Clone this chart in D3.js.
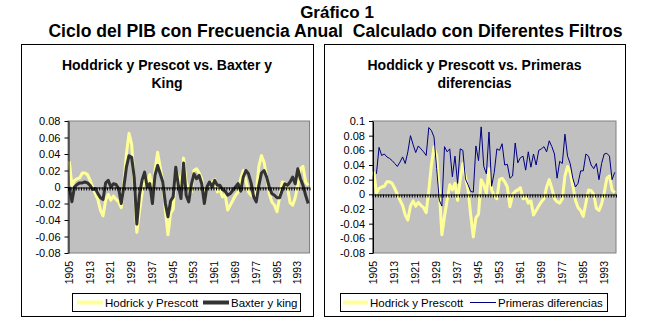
<!DOCTYPE html>
<html>
<head>
<meta charset="utf-8">
<script src="https://cdn.jsdelivr.net/npm/d3@7"></script>
<style>
  html, body { margin: 0; padding: 0; background: #ffffff; }
  svg { display: block; }
  text { font-family: "Liberation Sans", Arial, Helvetica, sans-serif; fill: #000; }
</style>
</head>
<body>
<svg id="chart" width="665" height="329"></svg>
<script>
// Years on the category axis (one point per year)
const years = [
  1905,1906,1907,1908,1909,1910,1911,1912,1913,1914,1915,1916,1917,1918,1919,1920,
  1921,1922,1923,1924,1925,1926,1927,1928,1929,1930,1931,1932,1933,1934,1935,1936,
  1937,1938,1939,1940,1941,1942,1943,1944,1945,1946,1947,1948,1949,1950,1951,1952,
  1953,1954,1955,1956,1957,1958,1959,1960,1961,1962,1963,1964,1965,1966,1967,1968,
  1969,1970,1971,1972,1973,1974,1975,1976,1977,1978,1979,1980,1981,1982,1983,1984,
  1985,1986,1987,1988,1989,1990,1991,1992,1993,1994,1995,1996,1997
];

// Year labels shown under each plot
const yearLabels = [1905,1913,1921,1929,1937,1945,1953,1961,1969,1977,1985,1993];

// Hodrick-Prescott cycle
const hodrickPrescott = [
   0.031, 0.002, 0.008, 0.010, 0.011, 0.017, 0.017, 0.015, 0.008, 0.000,
  -0.008,-0.015,-0.028,-0.035,-0.016,-0.009,-0.016,-0.011,-0.015,-0.018,
  -0.025, 0.005, 0.040, 0.065, 0.052, 0.005,-0.055,-0.030,-0.008, 0.013,
   0.006, 0.015,-0.008, 0.020, 0.042, 0.024, 0.006,-0.028,-0.058,-0.032,
  -0.027, 0.020, 0.013, 0.001, 0.035, 0.006,-0.002,-0.006, 0.020, 0.022,
   0.017, 0.010,-0.017, 0.000, 0.004, 0.006, 0.009,-0.006,-0.003,-0.012,
  -0.009,-0.028,-0.022,-0.016,-0.010,-0.006, 0.010, 0.020, 0.008,-0.006,
  -0.010,-0.012,-0.006, 0.025, 0.038, 0.030, 0.012,-0.008,-0.018,-0.022,
  -0.030,-0.012, 0.006, 0.005, 0.000,-0.019,-0.022,-0.013, 0.002, 0.022,
   0.025, 0.006, 0.002
];

// Baxter-King cycle
const baxterKing = [
   0.000,-0.018, 0.000, 0.003, 0.005, 0.005, 0.006, 0.005, 0.002,-0.003,
  -0.002,-0.008,-0.013,-0.015, 0.005, 0.008, 0.000, 0.004, 0.003,-0.002,
  -0.020, 0.000, 0.024, 0.038, 0.036, 0.012,-0.045,-0.010, 0.008, 0.018,
   0.000, 0.004,-0.020, 0.014, 0.026, 0.016, 0.006,-0.020,-0.036,-0.017,
  -0.012, 0.024, 0.002,-0.014, 0.029,-0.010,-0.018, 0.003, 0.016, 0.010,
   0.014, 0.004,-0.020, 0.000, 0.006, 0.000, 0.008, 0.002, 0.002,-0.003,
  -0.005,-0.010,-0.008,-0.004, 0.000, 0.004,-0.005, 0.012, 0.020, 0.016,
   0.005,-0.012,-0.018, 0.002, 0.017, 0.020, 0.012, 0.000,-0.008,-0.010,
  -0.013,-0.013,-0.004, 0.004, 0.002, 0.006, 0.012, 0.004, 0.022, 0.010,
   0.002,-0.010,-0.020
];

// First differences (no value for the first year)
const primerasDiferencias = [
    null, 0.028, 0.064, 0.053, 0.055, 0.051, 0.049, 0.046, 0.042, 0.038,
   0.044, 0.051, 0.042, 0.058, 0.080, 0.068, 0.057, 0.066, 0.062, 0.058,
   0.053, 0.091, 0.087, 0.078, 0.035,-0.008,-0.016, 0.065, 0.058, 0.062,
   0.024, 0.052, 0.015, 0.062, 0.060, 0.021, 0.013, 0.004, 0.003, 0.066,
   0.046, 0.092, 0.038, 0.028, 0.085, 0.011, 0.030, 0.062, 0.060, 0.069,
   0.040, 0.041, 0.022, 0.025, 0.070, 0.043, 0.050, 0.052, 0.033, 0.058,
   0.037, 0.055, 0.040, 0.060, 0.062, 0.065, 0.058, 0.073, 0.065, 0.055,
   0.022, 0.045, 0.042, 0.082, 0.052, 0.042, 0.022, 0.010, 0.015, 0.032,
   0.032, 0.055, 0.052, 0.040, 0.035, 0.042, 0.020, 0.042, 0.055, 0.056,
   0.052, 0.020, 0.030
];

// Value-axis ticks for each panel
const leftTicks = [0.08, 0.06, 0.04, 0.02, 0, -0.02, -0.04, -0.06, -0.08];
const leftTickLabels = ["0.08","0.06","0.04","0.02","0","-0.02","-0.04","-0.06","-0.08"];
const rightTicks = [0.1, 0.08, 0.06, 0.04, 0.02, 0, -0.02, -0.04, -0.06, -0.08];
const rightTickLabels = ["0.1","0.08","0.06","0.04","0.02","0","-0.02","-0.04","-0.06","-0.08"];

const svg = d3.select("#chart");

// Main titles
svg.append("text").attr("x", 337).attr("y", 18)
  .attr("text-anchor", "middle").attr("font-size", 17).attr("font-weight", "bold")
  .text("Gráfico 1");
svg.append("text").attr("x", 335.5).attr("y", 37)
  .attr("text-anchor", "middle").attr("font-size", 17.6).attr("font-weight", "bold")
  .style("white-space", "pre")
  .text("Ciclo del PIB con Frecuencia Anual  Calculado con Diferentes Filtros");

function panel(cfg) {
  const g = svg.append("g");

  // chart frame
  g.append("rect")
    .attr("x", cfg.box[0] + 0.5).attr("y", cfg.box[1] + 0.5)
    .attr("width", cfg.box[2] - cfg.box[0]).attr("height", cfg.box[3] - cfg.box[1])
    .attr("fill", "#fff").attr("stroke", "#000").attr("stroke-width", 1);

  const cx = (cfg.box[0] + cfg.box[2]) / 2;
  cfg.title.forEach((t, k) => {
    g.append("text").attr("x", cx).attr("y", 70 + k * 18)
      .attr("text-anchor", "middle").attr("font-size", 14).attr("font-weight", "bold")
      .text(t);
  });

  const [x0, x1, y0, y1] = cfg.plot;

  const x = d3.scalePoint().domain(years).range([x0, x1]).padding(0.5);
  const xEdges = d3.scaleLinear().domain([0, years.length]).range([x0, x1]);
  const y = d3.scaleLinear().domain(cfg.domain).range([y1, y0]);

  // plot area
  g.append("rect").attr("x", x0).attr("y", y0)
    .attr("width", x1 - x0).attr("height", y1 - y0)
    .attr("fill", "#c0c0c0").attr("stroke", "#808080").attr("stroke-width", 1);

  // series
  const line = d3.line()
    .defined(d => d != null)
    .x((d, i) => x(years[i]))
    .y(d => y(d));

  cfg.series.forEach(s => {
    g.append("path").datum(s.values)
      .attr("d", line)
      .attr("fill", "none")
      .attr("stroke", s.color)
      .attr("stroke-width", s.width)
      .attr("stroke-linejoin", "round");
  });

  // category axis along zero, tick at every category boundary
  const zeroAxis = d3.axisBottom(xEdges)
    .tickValues(d3.range(years.length + 1))
    .tickSize(3).tickSizeOuter(0).tickFormat("");
  const za = g.append("g").attr("transform", `translate(0,${Math.round(y(0)) + 0.5})`).call(zeroAxis);
  za.selectAll("path, line").attr("stroke", "#000");

  // value axis
  const yAxis = d3.axisLeft(y).tickValues(cfg.ticks)
    .tickFormat((d, i) => cfg.tickLabels[i]).tickSize(4).tickSizeOuter(0).tickPadding(4);
  const ya = g.append("g").attr("transform", `translate(${x0 + 0.5},0)`).call(yAxis);
  ya.selectAll("path, line").attr("stroke", "#000");
  ya.selectAll("text").attr("font-size", 11)
    .style("font-family", "'Liberation Sans', Arial, sans-serif");

  // year labels under the plot, rotated
  yearLabels.forEach(yr => {
    g.append("text")
      .attr("transform", `translate(${x(yr) + 3.5},${y1 + 8}) rotate(-90)`)
      .attr("text-anchor", "end").attr("font-size", 10.5)
      .text(yr);
  });

  // legend
  const [lx0, ly0, lx1, ly1] = cfg.legend.box;
  g.append("rect").attr("x", lx0 + 0.5).attr("y", ly0 + 0.5)
    .attr("width", lx1 - lx0).attr("height", ly1 - ly0)
    .attr("fill", "#fff").attr("stroke", "#000");
  const ly = (ly0 + ly1) / 2;
  cfg.legend.items.forEach(it => {
    g.append("line").attr("x1", it.x).attr("x2", it.x + it.len)
      .attr("y1", ly + 0.5).attr("y2", ly + 0.5)
      .attr("stroke", it.color).attr("stroke-width", it.width);
    g.append("text").attr("x", it.x + it.len + 2).attr("y", ly + 4.5)
      .attr("font-size", 11.5).text(it.label);
  });
}

panel({
  box: [21, 44, 313, 316],
  title: ["Hoddrick y Prescot vs. Baxter y", "King"],
  plot: [68, 309.5, 121, 253],
  domain: [-0.08, 0.08],
  ticks: leftTicks,
  tickLabels: leftTickLabels,
  series: [
    { values: hodrickPrescott, color: "#ffff99", width: 3 },
    { values: baxterKing, color: "#333333", width: 3 }
  ],
  legend: {
    box: [72, 293, 300, 311],
    items: [
      { x: 77, len: 26, color: "#ffff99", width: 4, label: "Hodrick y Prescott" },
      { x: 203, len: 26, color: "#333333", width: 4, label: "Baxter y king" }
    ]
  }
});

panel({
  box: [324, 44, 625, 316],
  title: ["Hoddick y Prescott vs. Primeras", "diferencias"],
  plot: [372.5, 616, 121, 253],
  domain: [-0.08, 0.1],
  ticks: rightTicks,
  tickLabels: rightTickLabels,
  series: [
    { values: hodrickPrescott, color: "#ffff99", width: 3 },
    { values: primerasDiferencias, color: "#000080", width: 1 }
  ],
  legend: {
    box: [340, 293, 607, 311],
    items: [
      { x: 343, len: 25, color: "#ffff99", width: 4, label: "Hodrick y Prescott" },
      { x: 470, len: 26, color: "#000080", width: 1, label: "Primeras diferencias" }
    ]
  }
});
</script>
</body>
</html>
